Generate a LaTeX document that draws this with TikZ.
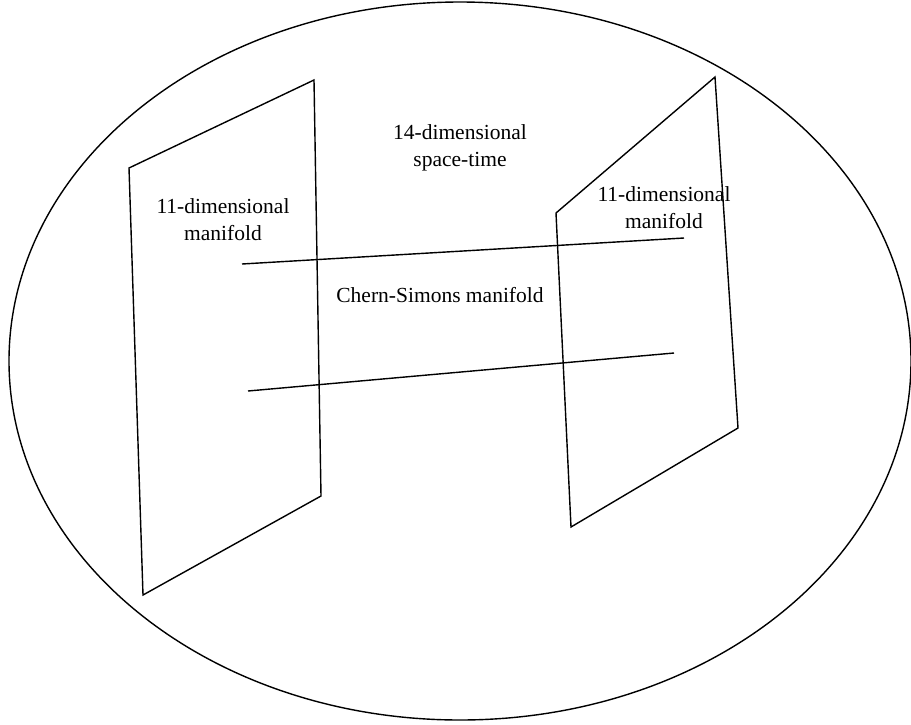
\documentclass[tikz,border=0pt]{standalone}
\usepackage{fontspec}
\setmainfont{Liberation Serif}
\begin{document}
\begin{tikzpicture}[x=1pt,y=-1pt,
  shapeline/.style={draw=black,line width=1.4pt,line join=miter},
  lbl/.style={font=\fontsize{21.5}{27}\selectfont,align=center,inner sep=0pt}]
\useasboundingbox (0,0) rectangle (911,724);
% space-time ellipse
\draw[shapeline] (460,361) ellipse [x radius=451, y radius=359];
% left manifold
\draw[shapeline] (129,168) -- (314,80) -- (321,496) -- (143,595) -- cycle;
% right manifold
\draw[shapeline] (556,213) -- (715,77) -- (738,428) -- (571,527) -- cycle;
% Chern-Simons lines
\coordinate (a1) at (242,264);
\coordinate (b1) at (684,238);
\coordinate (a2) at (248,391);
\coordinate (b2) at (674,353);
\draw[shapeline] (a1) -- (b1);
\draw[shapeline] (a2) -- (b2);
% labels
\node[lbl] (st) at (460,148) {14-dimensional\\space-time};
\node[lbl] (lm) at (223,220) {11-dimensional\\manifold};
\node[lbl] (rm) at (664,208) {11-dimensional\\manifold};
\node[lbl] (cs) at (440,295) {Chern-Simons manifold};
\end{tikzpicture}
\end{document}
